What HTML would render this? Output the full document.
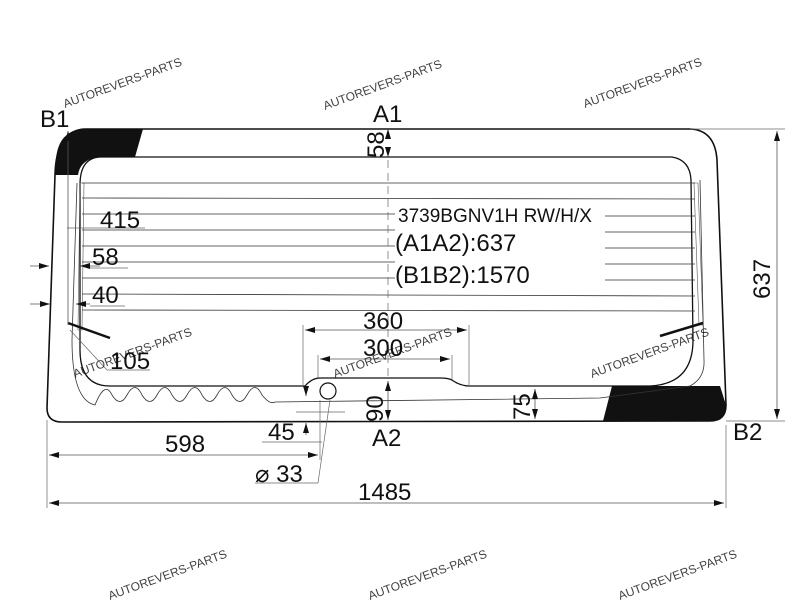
<!DOCTYPE html>
<html><head><style>body{margin:0;background:#fff}svg{display:block}text{font-family:"Liberation Sans",sans-serif;fill:#111}</style></head>
<body>
<svg width="800" height="600" viewBox="0 0 800 600" xmlns="http://www.w3.org/2000/svg">
<defs><marker id="a" markerWidth="10" markerHeight="6" refX="10" refY="3" orient="auto-start-reverse" markerUnits="userSpaceOnUse"><path d="M0,0 L10,3 L0,6 Z" fill="#111"/></marker></defs>
<!-- black corners -->
<path d="M55,175 L56,160 Q58,130 85,129 L143,129 L135,157 L98,157 Q80,160 78,175 Z" fill="#111"/>
<path d="M612,386 L720,386 L726,405 Q726,421 710,421 L603,421 Z" fill="#111"/>
<!-- outer -->
<path d="M85,129 L690,129 Q715,130 717,160 L726,405 Q726,421 710,421 L62,422 Q47,422 47,408 L55,175 Q56,130 85,129 Z" fill="none" stroke="#111" stroke-width="1.6"/>
<!-- inner -->
<path d="M100,157 L672,157 Q690,160 691,180 L693,340 Q693,384 650,386 L470,386 Q460,386 452,380 Q448,378 440,378 L320,378 Q312,378 305,386 L110,386 Q80,386 80,350 L80,185 Q80,158 100,157 Z" fill="none" stroke="#111" stroke-width="1.3"/>
<!-- frit line -->
<path d="M77,183 L72,340 Q72,400 95,405 Q105,380 112,395 Q120,408 127,395 Q135,380 142,395 Q150,408 157,395 Q165,380 172,395 Q180,408 187,395 Q195,380 202,395 Q210,408 217,395 Q225,380 232,395 Q240,408 247,395 Q255,380 262,395 Q270,405 275,402 L600,398 L690,386 Q705,378 704,360 L700,180" fill="none" stroke="#333" stroke-width="0.8"/>
<path d="M80,183 L84,183 L82,330 L78,330 Z" fill="none" stroke="#555" stroke-width="0.6"/>
<path d="M694,183 L698,183 L703,325 L699,325 Z" fill="none" stroke="#555" stroke-width="0.6"/>
<!-- heater lines -->
<g stroke="#333" stroke-width="0.8">
<line x1="82" y1="183" x2="695" y2="183"/>
<line x1="82" y1="198" x2="695" y2="199"/>
<line x1="82" y1="214" x2="395" y2="214"/><line x1="605" y1="216" x2="695" y2="216"/>
<line x1="82" y1="230" x2="395" y2="230"/><line x1="605" y1="232" x2="695" y2="232"/>
<line x1="82" y1="246" x2="395" y2="246"/><line x1="605" y1="248" x2="695" y2="248"/>
<line x1="82" y1="262" x2="395" y2="262"/><line x1="605" y1="264" x2="695" y2="264"/>
<line x1="82" y1="278" x2="395" y2="278"/><line x1="605" y1="280" x2="695" y2="280"/>
<line x1="82" y1="294" x2="695" y2="296"/>
<line x1="82" y1="310" x2="695" y2="311"/>
</g>
<line x1="68" y1="323" x2="110" y2="338" stroke="#111" stroke-width="2.5"/>
<line x1="660" y1="336" x2="703" y2="323" stroke="#111" stroke-width="2.5"/>
<circle cx="328" cy="391" r="8" fill="#fff" stroke="#111" stroke-width="1.2"/>
<!-- dimensions -->
<g stroke="#666" stroke-width="0.7" fill="none">
<line x1="47" y1="420" x2="47" y2="508"/><line x1="726" y1="425" x2="726" y2="508"/>
<line x1="690" y1="129" x2="785" y2="129"/><line x1="726" y1="421" x2="785" y2="421"/>
<line x1="388" y1="160" x2="388" y2="378" stroke-dasharray="8,5"/>
<line x1="303" y1="325" x2="303" y2="386"/><line x1="469" y1="325" x2="469" y2="386"/>
<line x1="318" y1="355" x2="318" y2="378"/><line x1="452" y1="355" x2="452" y2="380"/>
<line x1="320" y1="400" x2="320" y2="460"/><line x1="262" y1="442" x2="322" y2="442"/>
<line x1="330" y1="400" x2="318" y2="483"/><line x1="255" y1="483" x2="318" y2="483"/>
<line x1="70" y1="330" x2="107" y2="370"/><line x1="107" y1="370" x2="150" y2="370"/>
<line x1="67" y1="228" x2="145" y2="228"/><line x1="90" y1="268" x2="128" y2="268"/><line x1="90" y1="306" x2="125" y2="306"/>
<line x1="296" y1="412" x2="345" y2="412"/>
</g>
<g stroke="#555" stroke-width="0.8" fill="none">
<line x1="777" y1="131" x2="777" y2="419" marker-start="url(#a)" marker-end="url(#a)"/>
<line x1="49" y1="503" x2="724" y2="503" marker-start="url(#a)" marker-end="url(#a)"/>
<line x1="49" y1="455" x2="318" y2="455" marker-start="url(#a)" marker-end="url(#a)"/>
<line x1="305" y1="330" x2="467" y2="330" marker-start="url(#a)" marker-end="url(#a)"/>
<line x1="320" y1="359" x2="450" y2="359" marker-start="url(#a)" marker-end="url(#a)"/>
<line x1="388" y1="138" x2="388" y2="129" marker-end="url(#a)"/><line x1="388" y1="148" x2="388" y2="157" marker-end="url(#a)"/>
<line x1="388" y1="381" x2="388" y2="420" marker-start="url(#a)" marker-end="url(#a)"/>
<line x1="535" y1="389" x2="535" y2="419" marker-start="url(#a)" marker-end="url(#a)"/>
<line x1="306" y1="390" x2="306" y2="396" marker-end="url(#a)"/><line x1="306" y1="435" x2="306" y2="423" marker-end="url(#a)"/>
<line x1="30" y1="266" x2="49" y2="266" marker-end="url(#a)"/><line x1="100" y1="266" x2="80" y2="266" marker-end="url(#a)"/>
<line x1="30" y1="304" x2="50" y2="304" marker-end="url(#a)"/><line x1="90" y1="304" x2="76" y2="304" marker-end="url(#a)"/>
<line x1="68" y1="325" x2="68" y2="131" marker-end="url(#a)"/>
</g>
<!-- text -->
<g font-size="24">
<text x="40" y="127">B1</text><text x="373" y="122">A1</text><text x="372" y="446">A2</text><text x="733" y="440">B2</text>
<text x="100" y="228">415</text><text x="92" y="265">58</text><text x="92" y="303">40</text><text x="110" y="369">105</text>
<text x="363" y="329">360</text><text x="363" y="356">300</text>
<text x="165" y="452">598</text><text x="268" y="440">45</text><text x="255" y="482">⌀ 33</text><text x="358" y="500">1485</text>
<text transform="translate(384,158) rotate(-90)">58</text>
<text transform="translate(383,422) rotate(-90)">90</text>
<text transform="translate(530,420) rotate(-90)">75</text>
<text transform="translate(770,299) rotate(-90)">637</text>
</g>
<text x="398" y="222" font-size="19">3739BGNV1H RW/H/X</text>
<text x="395" y="251" font-size="24">(A1A2):637</text>
<text x="395" y="283" font-size="24">(B1B2):1570</text>
<g font-size="12" style="fill:#7cc0ea" opacity="0.8">
<text transform="translate(65,108) rotate(-20)">AUTOREVERS-PARTS</text>
<text transform="translate(325,110) rotate(-20)">AUTOREVERS-PARTS</text>
<text transform="translate(585,108) rotate(-20)">AUTOREVERS-PARTS</text>
<text transform="translate(75,378) rotate(-20)">AUTOREVERS-PARTS</text>
<text transform="translate(335,378) rotate(-20)">AUTOREVERS-PARTS</text>
<text transform="translate(592,378) rotate(-20)">AUTOREVERS-PARTS</text>
<text transform="translate(110,600) rotate(-20)">AUTOREVERS-PARTS</text>
<text transform="translate(370,600) rotate(-20)">AUTOREVERS-PARTS</text>
<text transform="translate(620,600) rotate(-20)">AUTOREVERS-PARTS</text>
</g>
</svg>
</body></html>
